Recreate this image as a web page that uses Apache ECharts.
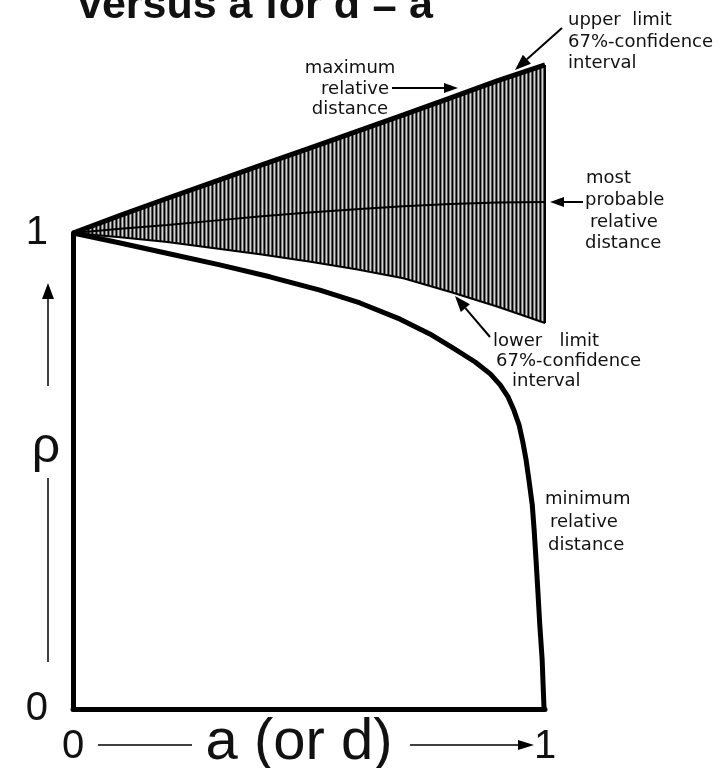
<!DOCTYPE html>
<html><head><meta charset="utf-8">
<script src="https://cdn.jsdelivr.net/npm/echarts@6/dist/echarts.min.js"></script>
<style>html,body{margin:0;padding:0;background:#fff}#c{width:724px;height:768px}</style>
</head><body><div id="c"></div>
<script>
// ---- data ----
const bandA        = [0, 0.1, 0.2, 0.3, 0.4, 0.5, 0.6, 0.7, 0.8, 0.9, 1.0];
const upperLimit   = [1.000, 1.037, 1.073, 1.108, 1.143, 1.178, 1.213, 1.248, 1.284, 1.320, 1.353];
const lowerLimit   = [1.000, 0.991, 0.981, 0.968, 0.955, 0.940, 0.924, 0.905, 0.876, 0.845, 0.811];
const mostProbable = [1.000, 1.009, 1.017, 1.026, 1.035, 1.043, 1.050, 1.056, 1.061, 1.064, 1.065];
const minA   = [0, 0.100, 0.206, 0.311, 0.417, 0.523, 0.608, 0.693, 0.756, 0.809, 0.852, 0.884, 0.905, 0.922, 0.934, 0.945, 0.953, 0.960, 0.966, 0.973, 0.977, 0.981, 0.985, 0.989, 0.994, 0.996, 0.998];
const minRho = [1, 0.979, 0.956, 0.933, 0.908, 0.880, 0.853, 0.819, 0.788, 0.756, 0.729, 0.704, 0.681, 0.655, 0.628, 0.597, 0.561, 0.523, 0.481, 0.429, 0.376, 0.313, 0.246, 0.176, 0.103, 0.050, 0];
const xTicks = ['0', '1'];
const yTicks = ['0', '1'];

const pair = (xs, ys) => xs.map((x, i) => [x, ys[i]]);

// hatch pattern for the confidence band
const pc = document.createElement('canvas'); pc.width = 4; pc.height = 4;
const g = pc.getContext('2d');
const cols = ['#000', '#7c7c7c', '#d2d2d2', '#5a5a5a'];
cols.forEach((c, i) => { g.fillStyle = c; g.fillRect(i, 0, 1, 4); });

const FONT = '"DejaVu Sans", sans-serif';
function arrow(x1, y1, x2, y2, lw, L, W) {
  const dx = x2 - x1, dy = y2 - y1, len = Math.hypot(dx, dy);
  const ux = dx / len, uy = dy / len, px = -uy, py = ux;
  const bx = x2 - ux * L, by = y2 - uy * L;
  return [
    { type: 'line', shape: { x1, y1, x2: bx, y2: by }, style: { stroke: '#000', lineWidth: lw }, z: 20 },
    { type: 'polygon', shape: { points: [[x2, y2], [bx + px * W, by + py * W], [bx - px * W, by - py * W]] }, style: { fill: '#000' }, z: 20 }
  ];
}
function txt(text, x, y, align, size) {
  return { type: 'text', z: 20, style: { text, x, y, align: align || 'left', verticalAlign: 'middle', font: (size || 18) + 'px ' + FONT, fill: '#111' } };
}

const graphics = [].concat(
  [{ type: 'text', z: 20, style: { text: 'versus a for d = a', x: 78, y: 28, align: 'left', verticalAlign: 'bottom', font: 'bold 43px "Liberation Sans", sans-serif', fill: '#111' } }],
  [txt('upper  limit', 568, 20), txt('67%-confidence', 568, 42), txt('interval', 568, 63)],
  arrow(562, 28, 515, 70, 2, 16, 6),
  [txt('maximum', 350, 68, 'center'), txt('relative', 389, 89, 'right'), txt('distance', 350, 109, 'center')],
  arrow(392, 88, 458, 88, 2, 14, 5),
  [txt('most', 586, 178), txt('probable', 585, 200), txt('relative', 590, 222), txt('distance', 585, 243)],
  arrow(583, 202, 550, 202, 2, 14, 5),
  [txt('lower   limit', 493, 341), txt('67%-confidence', 496, 361), txt('interval', 512, 381)],
  arrow(490, 337, 455, 296, 2, 16, 6),
  [txt('minimum', 545, 499), txt('relative', 550, 522), txt('distance', 548, 545)],
  // y axis annotation
  [{ type: 'text', z: 20, style: { text: 'ρ', x: 46, y: 448, align: 'center', verticalAlign: 'middle', font: '50px "Liberation Sans", sans-serif', fill: '#111' } }],
  arrow(48, 386, 48, 283, 1.5, 16, 6),
  [{ type: 'line', z: 20, shape: { x1: 48, y1: 478, x2: 48, y2: 662 }, style: { stroke: '#000', lineWidth: 1.5 } }],
  // x axis annotation
  [{ type: 'text', z: 20, style: { text: 'a (or d)', x: 299, y: 743, align: 'center', verticalAlign: 'middle', font: '58px "Liberation Sans", sans-serif', fill: '#111' } }],
  [{ type: 'line', z: 20, shape: { x1: 98, y1: 745, x2: 192, y2: 745 }, style: { stroke: '#000', lineWidth: 1.5 } }],
  arrow(410, 745, 534, 745, 1.5, 16, 5)
);

const chart = echarts.init(document.getElementById('c'), null, { renderer: 'canvas' });
chart.setOption({
  backgroundColor: '#fff',
  animation: false,
  grid: { left: 73, right: 179, top: 233, bottom: 59, containLabel: false },
  xAxis: {
    type: 'value', min: 0, max: 1, interval: 1, z: 10,
    axisLine: { show: true, lineStyle: { color: '#000', width: 5 } },
    axisTick: { show: false }, splitLine: { show: false },
    axisLabel: { margin: 18, fontSize: 40, fontFamily: '"Liberation Sans", sans-serif', color: '#111',
      formatter: v => xTicks[Math.round(v)] }
  },
  yAxis: {
    type: 'value', min: 0, max: 1, interval: 1, z: 10,
    axisLine: { show: true, lineStyle: { color: '#000', width: 5 } },
    axisTick: { show: false }, splitLine: { show: false },
    axisLabel: { margin: 25, fontSize: 40, fontFamily: '"Liberation Sans", sans-serif', color: '#111',
      formatter: v => yTicks[Math.round(v)] }
  },
  graphic: graphics,
  series: [
    { name: 'upper limit', type: 'line', clip: false, symbol: 'none', z: 2,
      data: pair(bandA, upperLimit),
      lineStyle: { color: '#000', width: 5 },
      areaStyle: { color: { image: pc, repeat: 'repeat' }, opacity: 1 } },
    { name: 'lower limit', type: 'line', clip: false, symbol: 'none', z: 3,
      data: pair(bandA, lowerLimit),
      lineStyle: { color: '#000', width: 2 },
      areaStyle: { color: '#fff', opacity: 1 } },
    { name: 'band edge', type: 'line', clip: false, symbol: 'none', z: 4,
      data: [[bandA[bandA.length - 1], lowerLimit[lowerLimit.length - 1]], [bandA[bandA.length - 1], upperLimit[upperLimit.length - 1]]],
      lineStyle: { color: '#000', width: 2 } },
    { name: 'most probable', type: 'line', clip: false, symbol: 'none', z: 4,
      data: pair(bandA, mostProbable),
      lineStyle: { color: '#000', width: 2 } },
    { name: 'minimum', type: 'line', clip: false, symbol: 'none', z: 4,
      data: pair(minA, minRho),
      lineStyle: { color: '#000', width: 5, join: 'round' } }
  ]
});
</script>
</body></html>
